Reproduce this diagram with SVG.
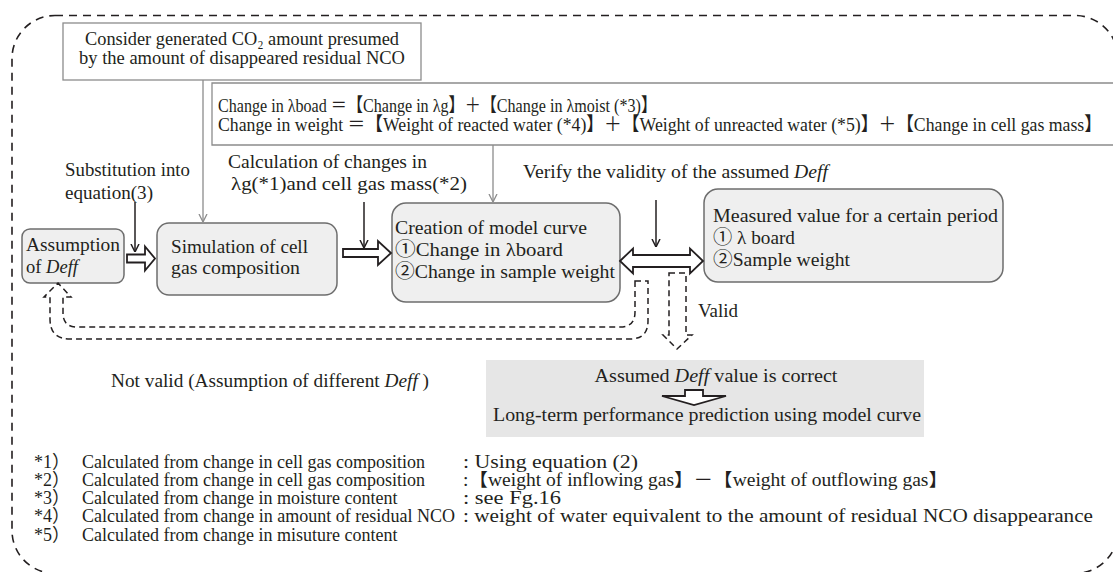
<svg xmlns="http://www.w3.org/2000/svg" width="1113" height="572" viewBox="0 0 1113 572">
<defs>
<style>
.t{font-family:"Liberation Serif","Noto Sans CJK JP",serif;font-size:19px;fill:#231f20}
.s{font-size:18px}
.i{font-style:italic}
.box{fill:#efefef;stroke:#6d6d6d;stroke-width:1.5}
.note{fill:#fff;stroke:#8c8c8c;stroke-width:1.3}
.gl{stroke:#8c8c8c;stroke-width:1.3;fill:none}
.bl{stroke:#231f20;stroke-width:1.5;fill:none}
.hol{fill:#fff;stroke:#231f20;stroke-width:1.8;stroke-linejoin:miter}
.dash{fill:none;stroke:#231f20;stroke-width:1.5;stroke-dasharray:6 4}
</style>
<marker id="ab" viewBox="0 0 8 10" refX="8" refY="5" markerWidth="8" markerHeight="10" markerUnits="userSpaceOnUse" orient="auto"><path d="M0,1 L8,5 L0,9" fill="none" stroke="#231f20" stroke-width="1.5"/></marker>
<marker id="ag" viewBox="0 0 8 10" refX="8" refY="5" markerWidth="8" markerHeight="10" markerUnits="userSpaceOnUse" orient="auto"><path d="M0,1 L8,5 L0,9" fill="none" stroke="#8c8c8c" stroke-width="1.3"/></marker>
</defs>
<rect x="12" y="15.5" width="1106" height="558" rx="43" fill="none" stroke="#231f20" stroke-width="1.6" stroke-dasharray="8 6"/>

<g id="note-co2">
<rect class="note" x="63" y="23" width="358" height="57"/>
<text class="t" x="242" y="45" font-size="17.5" text-anchor="middle" textLength="314" lengthAdjust="spacingAndGlyphs">Consider generated CO₂ amount presumed</text>
<text class="t" x="242" y="64" font-size="17.5" text-anchor="middle" textLength="326" lengthAdjust="spacingAndGlyphs">by the amount of disappeared residual NCO</text>
</g>

<g id="note-eq">
<path class="note" d="M1113,83 H212 V145 H1113"/>
<text class="t" x="218" y="112" font-size="16.5" textLength="439" lengthAdjust="spacingAndGlyphs">Change in  λboad ＝【Change in  λg】＋【Change in  λmoist (*3)】</text>
<text class="t" x="218" y="131" font-size="16" textLength="884" lengthAdjust="spacingAndGlyphs">Change in weight ＝【Weight of reacted water (*4)】＋【Weight of unreacted water (*5)】＋【Change in cell gas mass】</text>
</g>

<g id="label-subst">
<text class="t" x="65" y="176" textLength="125" lengthAdjust="spacingAndGlyphs">Substitution into</text>
<text class="t" x="65" y="199" textLength="88" lengthAdjust="spacingAndGlyphs">equation(3)</text>
</g>
<g id="label-calc">
<text class="t" x="228" y="168" textLength="199" lengthAdjust="spacingAndGlyphs">Calculation of changes in</text>
<text class="t" x="231" y="190" textLength="236" lengthAdjust="spacingAndGlyphs">λg(*1)and cell gas mass(*2)</text>
</g>
<g id="label-verify">
<text class="t" x="523" y="178" textLength="305" lengthAdjust="spacingAndGlyphs">Verify the validity of the assumed <tspan class="i">Deff</tspan></text>
</g>

<g id="assumption">
<rect class="box" x="22" y="229" width="102" height="54" rx="8"/>
<text class="t" x="26" y="251" textLength="94" lengthAdjust="spacingAndGlyphs">Assumption</text>
<text class="t" x="26" y="273" textLength="52" lengthAdjust="spacingAndGlyphs">of <tspan class="i">Deff</tspan></text>
</g>

<g id="simulation">
<rect class="box" x="157" y="223" width="180" height="72" rx="12"/>
<text class="t" x="171" y="253" textLength="137" lengthAdjust="spacingAndGlyphs">Simulation of cell</text>
<text class="t" x="171" y="274" textLength="129" lengthAdjust="spacingAndGlyphs">gas composition</text>
</g>

<g id="creation">
<rect class="box" x="392" y="203" width="228" height="99" rx="14"/>
<text class="t" x="395" y="234" textLength="192" lengthAdjust="spacingAndGlyphs">Creation of model curve</text>
<text class="t" x="395" y="256" textLength="168" lengthAdjust="spacingAndGlyphs">①Change in  λboard</text>
<text class="t" x="395" y="278" textLength="220" lengthAdjust="spacingAndGlyphs">②Change in sample weight</text>
</g>

<g id="measured">
<rect class="box" x="704" y="189" width="299" height="93" rx="14" fill="#f3f3f3"/>
<text class="t" x="713" y="222" textLength="285" lengthAdjust="spacingAndGlyphs">Measured value for a certain period</text>
<text class="t" x="713" y="244" textLength="82" lengthAdjust="spacingAndGlyphs">① λ board</text>
<text class="t" x="713" y="266" textLength="137" lengthAdjust="spacingAndGlyphs">②Sample weight</text>
</g>

<g id="result">
<rect x="486" y="360" width="438" height="77" fill="#e6e6e6"/>
<text class="t" x="716" y="382" text-anchor="middle" textLength="243" lengthAdjust="spacingAndGlyphs">Assumed <tspan class="i">Deff</tspan>  value is correct</text>
<path class="hol" d="M685,390 L703,390 L703,396 L726,396 L694,405 L662,396 L685,396 Z" stroke-width="2"/>
<text class="t" x="493" y="421" textLength="428" lengthAdjust="spacingAndGlyphs">Long-term performance prediction using model curve</text>
</g>

<g id="label-valid"><text class="t" x="698" y="317" textLength="40" lengthAdjust="spacingAndGlyphs">Valid</text></g>
<g id="label-notvalid"><text class="t" x="111" y="387" textLength="318" lengthAdjust="spacingAndGlyphs">Not valid (Assumption of different <tspan class="i">Deff</tspan> )</text></g>

<g id="connectors">
<line class="gl" x1="203" y1="80" x2="203" y2="222" marker-end="url(#ag)"/>
<line class="gl" x1="493" y1="145" x2="493" y2="202" marker-end="url(#ag)"/>
<line class="bl" x1="135" y1="202" x2="135" y2="252" marker-end="url(#ab)"/>
<line class="bl" x1="364" y1="202" x2="364" y2="248" marker-end="url(#ab)"/>
<line class="bl" x1="656" y1="200" x2="656" y2="247" marker-end="url(#ab)"/>
<path class="hol" d="M127,254.5 L145,254.5 L145,246.5 L155,258.5 L145,270.5 L145,262.5 L127,262.5 Z"/>
<path class="hol" d="M343,249 L378,249 L378,241 L391,253 L378,265 L378,257 L343,257 Z"/>
<path class="hol" d="M620,261 L633,248.5 L633,255 L690,255 L690,248.5 L703,261 L690,273.5 L690,267 L633,267 L633,273.5 Z"/>
<path class="dash" d="M669,273 L686,273 L686,335 L692,335 L677,349 L663,335 L669,335 Z"/>
<path class="dash" d="M635,281 L648,281 L648,321 Q648,339 630,339 L70,339 Q50,339 50,319 L50,297 L44,297 L58,283 L71,297 L63,297 L63,313 Q63,327 77,327 L620,327 Q635,327 635,312 Z"/>
</g>

<g id="footnotes">
<text class="t s" x="34" y="468">*1）</text>
<text class="t s" x="82" y="468">Calculated from change in cell gas composition</text>
<text class="t s" x="463" y="468" font-size="17.5" textLength="175" lengthAdjust="spacingAndGlyphs">: Using equation (2)</text>
<text class="t s" x="34" y="486">*2）</text>
<text class="t s" x="82" y="486">Calculated from change in cell gas composition</text>
<text class="t s" x="463" y="486" font-size="17.5" textLength="485" lengthAdjust="spacingAndGlyphs">:【weight of inflowing gas】－【weight of outflowing gas】</text>
<text class="t s" x="34" y="504">*3）</text>
<text class="t s" x="82" y="504">Calculated from change in moisture content</text>
<text class="t s" x="463" y="504" font-size="17.5" textLength="98" lengthAdjust="spacingAndGlyphs">: see Fg.16</text>
<text class="t s" x="34" y="522">*4）</text>
<text class="t s" x="82" y="522" textLength="373" lengthAdjust="spacingAndGlyphs">Calculated from change in amount of residual NCO</text>
<text class="t s" x="463" y="522" font-size="17.5" textLength="630" lengthAdjust="spacingAndGlyphs">: weight of water equivalent to the amount of residual NCO disappearance</text>
<text class="t s" x="34" y="541">*5）</text>
<text class="t s" x="82" y="541">Calculated from change in misuture content</text>
</g>
</svg>
